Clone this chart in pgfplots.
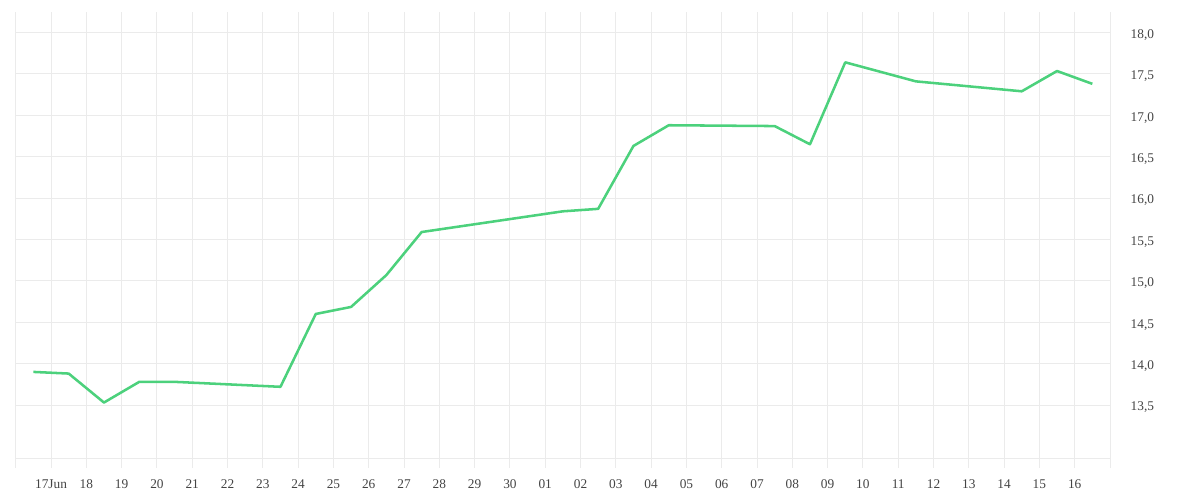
\documentclass[border=0pt]{standalone}
\usepackage{pgfplots}
\pgfplotsset{compat=1.18}
\usepackage{fontspec}
\setmainfont{Liberation Serif}
\definecolor{gridgray}{HTML}{EBEBEB}
\definecolor{linegreen}{HTML}{4CD17C}
\definecolor{labelgray}{HTML}{444444}
\begin{document}
\begin{tikzpicture}
\begin{axis}[
  name=main,
  scale only axis,
  width=820.7pt, height=334.5pt,
  xmin=-1, xmax=30,
  ymin=12.86, ymax=18.248,
  axis x line*=bottom,
  axis y line*=right,
  axis line style={draw=gridgray, line width=0.75pt, -},
  xtick={-1,0,...,30},
  xticklabels={,17Jun,18,19,20,21,22,23,24,25,26,27,28,29,30,01,02,03,04,05,06,07,08,09,10,11,12,13,14,15,16,},
  ytick={13.5,14,14.5,15,15.5,16,16.5,17,17.5,18},
  grid=major,
  major grid style={draw=gridgray, line width=0.75pt},
  tick align=outside,
  major tick length=7.5pt,
  xtick style={draw=gridgray, line width=0.75pt},
  ytick style={draw=none},
  tick label style={font=\fontsize{10}{12}\selectfont, text=labelgray},
  xticklabel style={yshift=-5pt},
  yticklabel style={anchor=west, xshift=4.5pt, yshift=-1.8pt},
  /pgf/number format/.cd, fixed, fixed zerofill, precision=1, use comma, assume math mode=true,
]
\addplot[linegreen, line width=1.9pt, line join=round] coordinates {
(-0.5,13.90) (0.5,13.88) (1.5,13.53) (2.5,13.78) (3.5,13.78) (6.5,13.72)
(7.5,14.60) (8.5,14.685) (9.5,15.07) (10.5,15.59) (14.5,15.84) (15.5,15.87)
(16.5,16.63) (17.5,16.88) (20.5,16.87) (21.5,16.65) (22.5,17.64) (24.5,17.41)
(27.5,17.29) (28.5,17.535) (29.5,17.38)
};
\end{axis}
\path[use as bounding box] ([xshift=-11.8pt,yshift=-31.5pt]main.south west) rectangle ([xshift=67.5pt,yshift=9pt]main.north east);
\end{tikzpicture}
\end{document}
